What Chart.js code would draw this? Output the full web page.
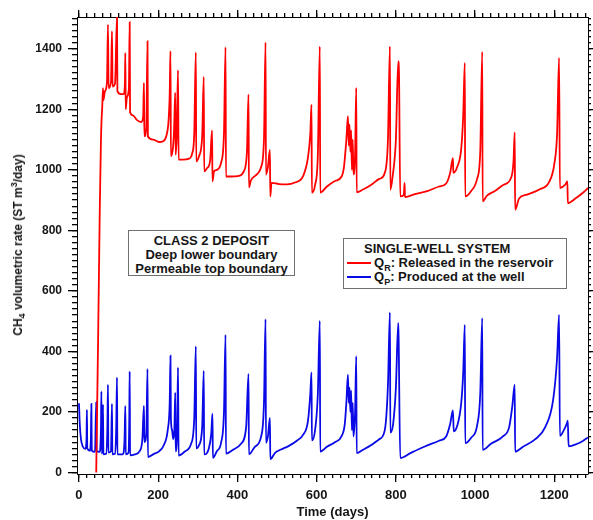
<!DOCTYPE html>
<html>
<head>
<meta charset="utf-8">
<script src="https://cdn.jsdelivr.net/npm/chart.js@4.4.1/dist/chart.umd.min.js"></script>
<style>
  body { margin: 0; background: #fff; }
  #wrap { position: relative; width: 593px; height: 520px; font-family: "Liberation Sans", Arial, sans-serif; font-weight: bold; color: #151515; }
  #chart { position: absolute; left: 0; top: 0; }
  .box { position: absolute; border: 1.5px solid #707070; background: #fff; font-size: 13px; line-height: 14px; box-sizing: border-box; }
  #deposit { left: 128px; top: 230px; width: 167px; height: 46px; text-align: center; padding-top: 3px; }
  #system { left: 343px; top: 238px; width: 224px; height: 51px; padding-top: 3px; }
  #system .head { padding-left: 20px; }
  #system .row { padding-left: 3px; white-space: nowrap; }
  .swatch { display: inline-block; width: 24px; height: 0; border-top: 2px solid; vertical-align: middle; margin-right: 3px; position: relative; top: -1px; }
  sub, sup { font-size: 9px; line-height: 0; }
  #ytitle { position: absolute; left: 18px; top: 245px; transform: translate(-50%, -50%) rotate(-90deg); white-space: nowrap; font-size: 12px; }
</style>
</head>
<body>
<div id="wrap">
  <canvas id="chart" width="593" height="520"></canvas>
  <div id="ytitle">CH<sub>4</sub> volumetric rate (ST m<sup>3</sup>/day)</div>
  <div class="box" id="deposit">CLASS 2 DEPOSIT<br>Deep lower boundary<br>Permeable top boundary</div>
  <div class="box" id="system">
    <div class="head">SINGLE-WELL SYSTEM</div>
    <div class="row"><span class="swatch" id="swR"></span>Q<sub>R</sub>: Released in the reservoir</div>
    <div class="row"><span class="swatch" id="swP"></span>Q<sub>P</sub>: Produced at the well</div>
  </div>
</div>
<script>
// time in days, rate in ST m3/day
const redDays = [43.5, 48.5, 52.5, 55.5, 57.5, 58.5, 60.6, 61.6, 65.6, 70.7, 73.2, 74.7, 80.8, 83.3, 84.8, 91, 96, 97, 106, 113, 116, 117, 118, 121, 126, 128, 129, 136, 146, 157, 162, 164, 165, 170, 173, 174, 187, 202, 212, 220, 226, 229, 231, 232, 237, 240, 243, 244, 247, 250, 251.5, 263, 278, 286, 291, 295, 296, 303, 311, 315, 316, 323, 331, 336, 337, 341, 348, 359, 366, 370, 371, 384, 404, 416, 424, 428, 429, 434, 449, 460, 467, 471, 472, 477, 482, 483, 486, 505, 525, 545, 566, 578, 584, 587, 588, 596, 603, 608, 609, 626, 646, 663, 669, 675, 679, 681, 683, 685, 687, 689, 691, 693, 697, 700, 701, 717, 737, 758, 772, 780, 785, 786, 792, 800, 806, 808, 811, 820, 822, 823, 848, 879, 909, 927, 937, 944, 945, 955, 965, 970, 974, 975, 990, 1005, 1013, 1018, 1019, 1030, 1050, 1071, 1092, 1097, 1100, 1101, 1111, 1131, 1162, 1187, 1200, 1207, 1212, 1214, 1227, 1233, 1234, 1253, 1273, 1285];
const redRate = [0, 460, 870, 1100, 1180, 1200, 1270, 1230, 1260, 1290, 1480, 1270, 1290, 1458, 1275, 1285, 1507, 1260, 1250, 1250, 1290, 1386, 1200, 1240, 1270, 1488, 1190, 1180, 1165, 1158, 1175, 1287, 1111, 1140, 1425, 1110, 1100, 1092, 1094, 1110, 1160, 1250, 1392, 1045, 1070, 1130, 1255, 1050, 1120, 1329, 1034, 1034, 1037, 1055, 1120, 1388, 1028, 1045, 1110, 1307, 995, 1005, 1030, 1130, 962, 995, 1000, 1025, 1120, 1405, 978, 978, 980, 995, 1060, 1249, 942, 965, 985, 1010, 1100, 1421, 984, 1010, 1066, 912, 957, 953, 952, 958, 980, 1040, 1120, 1215, 924, 950, 1050, 1408, 925, 945, 963, 978, 1010, 1100, 1177, 1080, 1150, 1060, 1130, 1000, 1100, 985, 1050, 1271, 926, 935, 950, 970, 990, 1100, 1408, 934, 980, 1100, 1359, 1309, 912, 918, 957, 910, 920, 930, 945, 955, 990, 1039, 990, 1010, 1070, 1180, 1353, 912, 930, 970, 1060, 1390, 896, 915, 930, 950, 978, 1030, 1124, 868, 905, 918, 935, 960, 1020, 1120, 1370, 940, 950, 962, 890, 905, 925, 940];

const blueDays = [0, 2, 5, 10, 16, 19, 20, 21, 27, 30, 31.3, 32.3, 40.4, 43.5, 44.5, 52.5, 55.5, 56.6, 57.6, 59.6, 60.6, 61.6, 68.7, 71.7, 73.2, 74.2, 80.8, 83.3, 84.3, 91, 94, 96, 97, 111, 115, 117, 118, 125, 127, 128, 129, 141, 154, 160, 164, 165, 170, 173, 174, 187, 202, 214, 224, 229, 231, 232, 235, 238, 241, 243, 244, 248, 250, 251.5, 268, 283, 291, 295, 296, 303, 311, 315, 316, 328, 334, 337, 338, 348, 359, 366, 370, 371, 389, 409, 422, 428, 429, 444, 460, 467, 471, 472, 477, 482, 483, 495, 510, 530, 550, 566, 578, 584, 587, 588, 596, 603, 608, 609, 626, 646, 663, 671, 675, 679, 681, 683, 685, 687, 689, 691, 693, 697, 700, 701, 717, 737, 758, 772, 780, 785, 786, 793, 800, 806, 807, 811, 838, 873, 909, 927, 937, 944, 946, 955, 965, 970, 974, 975, 990, 1005, 1013, 1018, 1019, 1040, 1071, 1086, 1094, 1100, 1101, 1121, 1152, 1177, 1197, 1207, 1212, 1214, 1224, 1231, 1234, 1236, 1258, 1273, 1285];
const blueRate = [229, 160, 110, 85, 78, 110, 207, 80, 72, 110, 227, 72, 68, 232, 70, 68, 150, 268, 62, 110, 224, 60, 62, 150, 290, 66, 70, 227, 60, 62, 150, 314, 60, 60, 110, 220, 60, 65, 180, 334, 57, 60, 72, 110, 220, 100, 130, 342, 51, 60, 70, 90, 140, 230, 386, 180, 140, 110, 150, 264, 70, 150, 347, 56, 70, 95, 180, 417, 80, 90, 150, 336, 60, 80, 130, 194, 48, 70, 100, 200, 455, 62, 75, 95, 150, 326, 60, 85, 120, 230, 507, 98, 120, 180, 44, 65, 76, 88, 105, 125, 170, 260, 331, 106, 140, 260, 501, 69, 85, 100, 120, 160, 230, 323, 230, 280, 200, 270, 140, 230, 119, 200, 384, 64, 75, 90, 110, 140, 290, 529, 132, 160, 280, 494, 440, 48, 65, 86, 105, 119, 160, 205, 136, 155, 230, 330, 488, 97, 115, 155, 260, 510, 75, 95, 120, 150, 220, 290, 69, 85, 110, 150, 240, 380, 521, 121, 140, 160, 171, 86, 95, 105, 116];

const xTickValues = [0, 200, 400, 600, 800, 1000, 1200];
const yTickValues = [0, 200, 400, 600, 800, 1000, 1200, 1400];
const X_MIN = -5, X_MAX = 1285;
const Y_MIN = -5, Y_MAX = 1505;

const RED = '#ff0000';
const BLUE = '#0a0ae6';
const INK = '#151515';
const FONT = '"Liberation Sans", Arial, sans-serif';

document.getElementById('swR').style.borderColor = RED;
document.getElementById('swP').style.borderColor = BLUE;

// minor tick positions every 20 units
function minorTicks(max) {
    var t = [];
    for (var v = 0; v <= max; v += 20) t.push({ value: v });
    return t;
}

// one axis per tick row, so that every side of the frame gets major and minor marks
function tickAxis(dir, position, weight, size, ticksFn, tickLength, border) {
    return {
        type: 'linear',
        position: position,
        weight: weight,
        min: dir === 'x' ? X_MIN : Y_MIN,
        max: dir === 'x' ? X_MAX : Y_MAX,
        afterFit: s => { if (dir === 'x') s.height = size; else s.width = size; },
        afterBuildTicks: s => { s.ticks = ticksFn(); },
        grid: { drawOnChartArea: false, drawTicks: true, tickLength: tickLength, color: '#000', lineWidth: 1.3 },
        border: { display: border, color: '#000', width: 1 },
        ticks: { display: false }
    };
}

const xMajor = () => xTickValues.map(v => ({ value: v }));
const yMajor = () => yTickValues.map(v => ({ value: v }));

const scales = {
    x: {
        type: 'linear',
        position: 'bottom',
        weight: 1,
        min: X_MIN,
        max: X_MAX,
        afterFit: s => { s.height = 46; },
        afterBuildTicks: s => { s.ticks = xMajor(); },
        grid: { drawOnChartArea: false, tickLength: 8, color: '#000', lineWidth: 1.3 },
        border: { display: true, color: '#000', width: 1 },
        ticks: { color: INK, padding: 6, maxRotation: 0, callback: v => String(v), font: { family: FONT, size: 13, weight: 'bold' } },
        title: { display: true, text: 'Time (days)', color: INK, padding: 0, font: { family: FONT, size: 13, weight: 'bold' } }
    },
    y: {
        type: 'linear',
        position: 'left',
        weight: 1,
        min: Y_MIN,
        max: Y_MAX,
        afterFit: s => { s.width = 77; },
        afterBuildTicks: s => { s.ticks = yMajor(); },
        grid: { drawOnChartArea: false, tickLength: 9, color: '#000', lineWidth: 1.3 },
        border: { display: true, color: '#000', width: 1 },
        ticks: { color: INK, padding: 6, callback: v => String(v), font: { family: FONT, size: 12, weight: 'bold' } }
    },
    xMinor: tickAxis('x', 'bottom', 0, 0, () => minorTicks(1280), 4, false),
    xTop: tickAxis('x', 'top', 1, 0, xMajor, 7, true),
    xTopMinor: tickAxis('x', 'top', 0, 0, () => minorTicks(1280), 4, false),
    yMinor: tickAxis('y', 'left', 0, 0, () => minorTicks(1500), 5, false),
    yRight: tickAxis('y', 'right', 1, 0, yMajor, 5, true),
    yRightMinor: tickAxis('y', 'right', 0, 0, () => minorTicks(1500), 3, false)
};

new Chart(document.getElementById('chart'), {
    type: 'line',
    data: {
        datasets: [{
            label: 'QR: Released in the reservoir',
            data: redDays.map((d, i) => ({ x: d, y: redRate[i] })),
            xAxisID: 'x',
            yAxisID: 'y',
            borderColor: RED,
            borderWidth: 1.8,
            pointRadius: 0,
            cubicInterpolationMode: 'monotone'
        }, {
            label: 'QP: Produced at the well',
            data: blueDays.map((d, i) => ({ x: d, y: blueRate[i] })),
            xAxisID: 'x',
            yAxisID: 'y',
            borderColor: BLUE,
            borderWidth: 1.8,
            pointRadius: 0,
            cubicInterpolationMode: 'monotone'
        }]
    },
    options: {
        responsive: false,
        animation: false,
        layout: { padding: { top: 17, right: 5, left: 0, bottom: 0 } },
        plugins: { legend: { display: false }, tooltip: { enabled: false } },
        scales: scales
    }
});
</script>
</body>
</html>
